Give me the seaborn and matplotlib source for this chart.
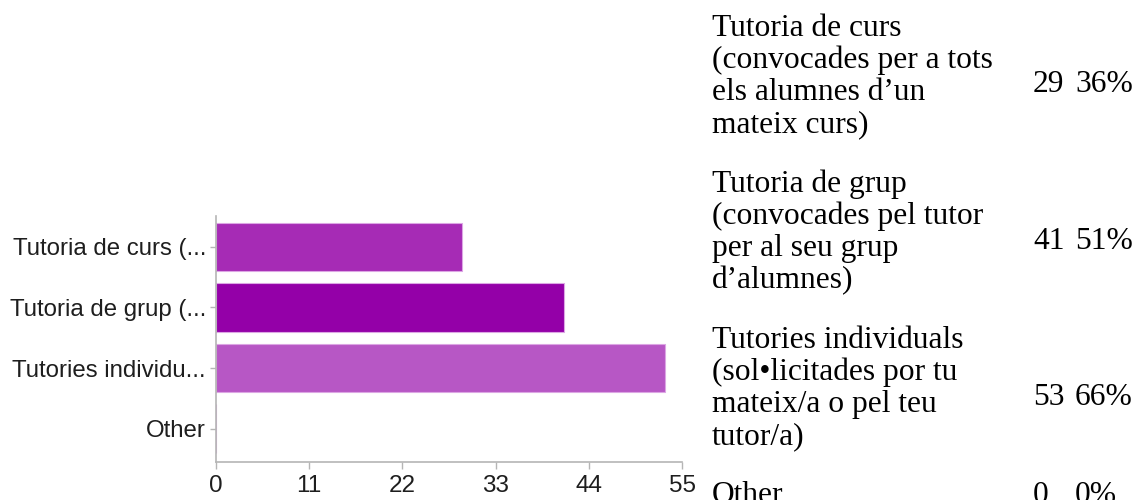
import matplotlib
matplotlib.use("Agg")
import matplotlib.pyplot as plt
import seaborn as sns

# ---- data ----
categories = ["Tutoria de curs (...", "Tutoria de grup (...", "Tutories individu...", "Other"]
counts = [29, 41, 53, 0]
percents = ["36%", "51%", "66%", "0%"]
full_labels = [
    ["Tutoria de curs", "(convocades per a tots", "els alumnes d\u2019un", "mateix curs)"],
    ["Tutoria de grup", "(convocades pel tutor", "per al seu grup", "d\u2019alumnes)"],
    ["Tutories individuals", "(sol\u2022licitades por tu", "mateix/a o pel teu", "tutor/a)"],
    ["Other"],
]
xticks = [0, 11, 22, 33, 44, 55]
bar_colors = ["#a62bb5", "#9400a8", "#b757c5", "#c27fd0"]

# ---- figure ----
sns.set_style("white")
plt.rcParams["font.family"] = ["Liberation Sans", "DejaVu Sans"]

W, H = 1135, 500
fig = plt.figure(figsize=(W / 100, H / 100), dpi=100)

ax_l, ax_r, ax_t, ax_b = 215.7, 682.3, 216, 462
ax = fig.add_axes([ax_l / W, 1 - ax_b / H, (ax_r - ax_l) / W, (ax_b - ax_t) / H])

sns.barplot(x=counts, y=categories, hue=categories, palette=bar_colors,
            legend=False, orient="h", width=0.8, saturation=1, ax=ax,
            edgecolor="#dca6e4", linewidth=0.8)

ax.set_xlim(0, 55)
ax.set_ylim(3.55, -0.51)
ax.set_xticks(xticks)
ax.set_xticklabels([str(v) for v in xticks])
ax.set_xlabel("")
ax.set_ylabel("")

for s in ["top", "right"]:
    ax.spines[s].set_visible(False)
for s in ["left", "bottom"]:
    ax.spines[s].set_color("#b5b5b5")
    ax.spines[s].set_linewidth(1.2)

ax.tick_params(axis="y", which="both", left=True, length=4, width=1,
               color="#b5b5b5", pad=3, labelsize=17.3, labelcolor="#1e1e1e")
ax.tick_params(axis="x", which="both", bottom=True, length=5, width=1,
               color="#b5b5b5", pad=4, labelsize=17.5, labelcolor="#1e1e1e")
ax.grid(False)

# ---- right-hand text table ----
serif = ["Liberation Serif", "DejaVu Serif"]
fs = 22.7
text_x = 712
num_x = 1033
pct_x = 1075
row_first_baselines = [36, 192, 348, 503]
line_step = 32.2
num_offsets = [56, 57, 57, 0]

for i, lines in enumerate(full_labels):
    b0 = row_first_baselines[i]
    for k, line in enumerate(lines):
        yb = b0 + k * line_step
        fig.text(text_x / W, 1 - yb / H, line, family=serif, fontsize=fs,
                 color="black", va="baseline", ha="left")
    yn = b0 + num_offsets[i]
    fig.text(num_x / W, 1 - yn / H, str(counts[i]), family=serif, fontsize=fs,
             color="black", va="baseline", ha="left")
    fig.text(pct_x / W, 1 - yn / H, percents[i], family=serif, fontsize=fs,
             color="black", va="baseline", ha="left")

fig.savefig("out.png", dpi=100)
